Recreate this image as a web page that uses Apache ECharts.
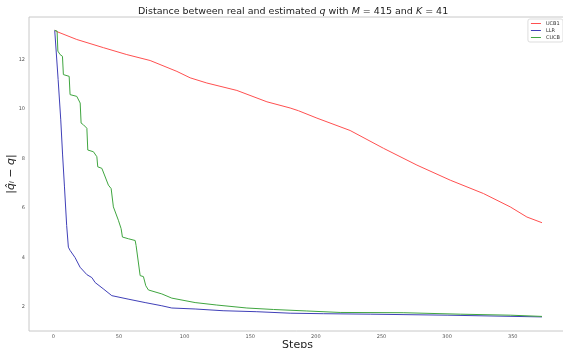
<!DOCTYPE html>
<html>
<head>
<meta charset="utf-8">
<script src="https://cdn.jsdelivr.net/npm/echarts@6/dist/echarts.min.js"></script>
<style>
  html, body { margin: 0; padding: 0; background: #fff; }
  #chart { width: 563px; height: 348px; }
</style>
</head>
<body>
<div id="chart"></div>
<script>
// values
const ucb1Steps = [1, 2.6, 17.8, 38.1, 55.9, 73.7, 94.1, 104.2, 116.9, 139.8, 162.7, 180.4, 186.7, 200.8, 226.1, 251.5, 277, 302.4, 327.7, 348.1, 360.8, 372.3]
const ucb1Vals = [13.18, 13.13, 12.81, 12.48, 12.2, 11.96, 11.52, 11.26, 11.05, 10.75, 10.29, 10.04, 9.93, 9.63, 9.13, 8.41, 7.73, 7.12, 6.58, 6.04, 5.63, 5.4]

const llrSteps = [1, 3.6, 5.6, 7.0, 8.4, 10.1, 11.4, 12.7, 16.5, 20.3, 25.5, 29.3, 31.8, 37.9, 39.4, 44.5, 56.9, 69.9, 82.6, 90.2, 108, 129.3, 155, 180.4, 205.6, 241.4, 300, 372.3]
const llrVals = [13.18, 11.19, 9.56, 8.14, 6.88, 5.29, 4.41, 4.28, 3.99, 3.6, 3.3, 3.18, 2.98, 2.73, 2.65, 2.45, 2.31, 2.17, 2.04, 1.95, 1.91, 1.84, 1.8, 1.74, 1.72, 1.7, 1.66, 1.59]

const cucbSteps = [1, 2.8, 3.4, 5.1, 6.9, 7.6, 12, 12.7, 17.8, 20.4, 21.1, 22.9, 25.5, 26.2, 30.5, 33.1, 33.8, 36.9, 38.9, 41.9, 44, 45.7, 49.5, 51.6, 52.6, 57.2, 62.3, 63, 66.1, 68.6, 70.4, 72.4, 82.6, 90.2, 108, 124.5, 147.4, 167.7, 193.1, 218.5, 266.5, 310, 348.1, 372.3]
const cucbVals = [13.18, 13.15, 12.34, 12.2, 12.13, 11.39, 11.32, 10.58, 10.51, 10.24, 9.43, 9.36, 9.22, 8.34, 8.27, 8.07, 7.66, 7.6, 7.33, 6.92, 6.78, 6.04, 5.5, 5.16, 4.82, 4.75, 4.68, 4.48, 3.26, 3.22, 2.85, 2.68, 2.52, 2.35, 2.17, 2.07, 1.95, 1.89, 1.83, 1.77, 1.76, 1.7, 1.66, 1.61]

const xTicks = [0, 50, 100, 150, 200, 250, 300, 350]
const yTicks = [2, 4, 6, 8, 10, 12]

function zip(xs, ys) {
  return xs.map((x, i) => [x, ys[i]])
}

const myChart = echarts.init(document.getElementById('chart'), null, { renderer: 'canvas' })

const labelStyle = { fontSize: 5, color: '#555', fontFamily: 'DejaVu Sans' }
const mathStyle = { fontStyle: 'italic', color: '#222', fontFamily: 'DejaVu Sans' }

const option = {
  animation: false,
  backgroundColor: '#fff',
  title: {
    text: 'Distance between real and estimated {i|q} with {i|M} = 415 and {i|K} = 41',
    left: 133,
    top: 2,
    textStyle: {
      fontSize: 9.5,
      fontWeight: 'normal',
      color: '#222',
      fontFamily: 'DejaVu Sans',
      rich: { i: Object.assign({ fontSize: 9.5 }, mathStyle) }
    }
  },
  legend: {
    orient: 'vertical',
    right: 0,
    top: 19,
    icon: 'rect',
    itemWidth: 10,
    itemHeight: 1,
    itemGap: 2,
    padding: [2, 3, 2, 3],
    borderColor: '#ddd',
    borderWidth: 1,
    borderRadius: 2,
    backgroundColor: '#fff',
    textStyle: { fontSize: 5, color: '#333', fontFamily: 'DejaVu Sans' },
    data: ['UCB1', 'LLR', 'CUCB']
  },
  grid: {
    left: 29,
    right: -3,
    top: 17,
    bottom: 17,
    outerBoundsMode: 'none',
    containLabel: false,
    show: true,
    borderColor: '#c8c8c8',
    borderWidth: 1
  },
  xAxis: {
    type: 'value',
    min: -18.6,
    max: 390.6,
    name: 'Steps',
    nameLocation: 'middle',
    nameGap: 9,
    nameMoveOverlap: false,
    nameTextStyle: { fontSize: 11, color: '#222', fontFamily: 'DejaVu Sans' },
    axisLine: { show: false },
    axisTick: { show: false },
    splitLine: { show: false },
    axisLabel: Object.assign({ customValues: xTicks, margin: 3 }, labelStyle)
  },
  yAxis: {
    type: 'value',
    min: 1.02,
    max: 13.72,
    name: '|{i|q̂ᵢ} − {i|q}|',
    nameLocation: 'middle',
    nameRotate: 90,
    nameGap: 12,
    nameMoveOverlap: false,
    nameTextStyle: {
      fontSize: 11,
      color: '#222',
      fontFamily: 'DejaVu Sans',
      rich: { i: Object.assign({ fontSize: 11 }, mathStyle) }
    },
    axisLine: { show: false },
    axisTick: { show: false },
    splitLine: { show: false },
    axisLabel: Object.assign({ customValues: yTicks, margin: 4 }, labelStyle)
  },
  series: [
    {
      name: 'UCB1',
      type: 'line',
      symbol: 'none',
      data: zip(ucb1Steps, ucb1Vals),
      lineStyle: { width: 1, color: '#ff5050' },
      itemStyle: { color: '#ff5050' }
    },
    {
      name: 'LLR',
      type: 'line',
      symbol: 'none',
      data: zip(llrSteps, llrVals),
      lineStyle: { width: 1, color: '#4040b8' },
      itemStyle: { color: '#4040b8' }
    },
    {
      name: 'CUCB',
      type: 'line',
      symbol: 'none',
      data: zip(cucbSteps, cucbVals),
      lineStyle: { width: 1, color: '#40a640' },
      itemStyle: { color: '#40a640' }
    }
  ]
}

myChart.setOption(option)
</script>
</body>
</html>
